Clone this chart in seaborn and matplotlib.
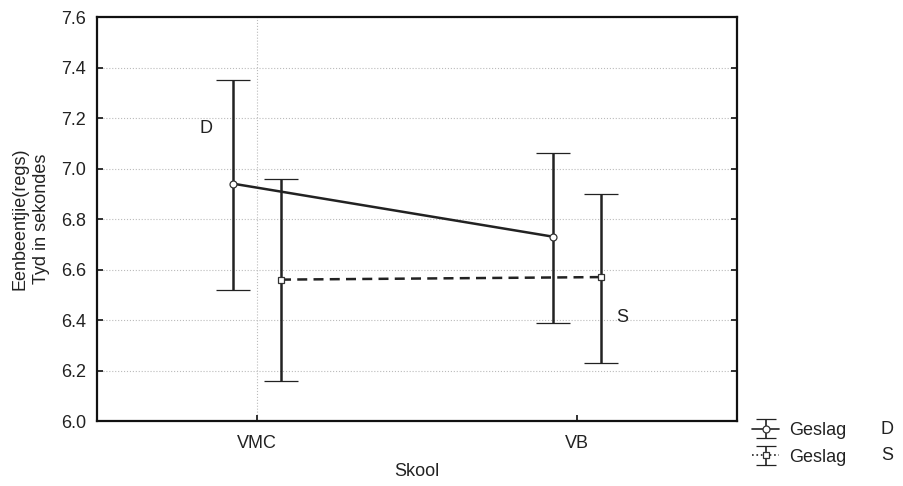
import numpy as np
import pandas as pd
import matplotlib
matplotlib.use("Agg")
import matplotlib.pyplot as plt
import seaborn as sns
from matplotlib.legend_handler import HandlerErrorbar

categories = ["VMC", "VB"]
groups = ["D", "S"]
mean_D = [6.94, 6.73]
upper_D = [7.35, 7.06]
lower_D = [6.52, 6.39]
mean_S = [6.56, 6.57]
upper_S = [6.96, 6.90]
lower_S = [6.16, 6.23]
yticks = [6.0, 6.2, 6.4, 6.6, 6.8, 7.0, 7.2, 7.4, 7.6]

sns.set_theme(style="white")
plt.rcParams["font.family"] = ["Liberation Sans", "DejaVu Sans"]

FS = 13
fig = plt.figure(figsize=(9.04, 4.86), dpi=100)
ax = fig.add_axes([0.1073, 0.1337, 0.708, 0.8313])

xbase = np.arange(len(categories))
offsets = {"D": -0.075, "S": 0.075}
series = {
    "D": (mean_D, upper_D, lower_D, "-", "o"),
    "S": (mean_S, upper_S, lower_S, (0, (4, 2.5)), "s"),
}
rows = []
for g in groups:
    m, u, l, ls, mk = series[g]
    for i, c in enumerate(categories):
        rows.append(dict(x=xbase[i] + offsets[g], mean=m[i], up=u[i], lo=l[i], group=g))
df = pd.DataFrame(rows)

handles = []
for g in groups:
    m, u, l, ls, mk = series[g]
    sub = df[df.group == g]
    sns.lineplot(data=sub, x="x", y="mean", ax=ax, color="#222222", lw=1.8,
                 linestyle=ls, legend=False, zorder=3)
    ax.errorbar(sub["x"], sub["mean"],
                yerr=[sub["mean"] - sub["lo"], sub["up"] - sub["mean"]],
                fmt=mk, color="#222222", ecolor="#222222", elinewidth=1.8,
                capsize=12, capthick=1.8, markersize=5,
                markerfacecolor="white", markeredgecolor="#333333",
                markeredgewidth=0.9, zorder=4, linestyle="none")
    proxy = ax.errorbar([np.nan], [np.nan], yerr=[[np.nan], [np.nan]],
                        fmt=mk, color="#222222", ecolor="#222222", elinewidth=1.2,
                        capsize=7, capthick=1.2, markersize=5,
                        markerfacecolor="white", markeredgecolor="#333333",
                        markeredgewidth=0.9, linestyle=ls if g == "D" else ":", lw=1.2)
    handles.append(proxy)

ax.set_xlim(-0.5, 1.5)
ax.set_ylim(6.0, 7.6)
ax.set_yticks(yticks)
ax.set_yticklabels([f"{v:.1f}" for v in yticks])
ax.set_xticks(xbase)
ax.set_xticklabels(categories)
ax.tick_params(axis="both", direction="in", length=4, width=1.3, labelsize=FS,
               colors="#222222", right=True, left=True, bottom=True)
ax.tick_params(axis="y", pad=8)
ax.tick_params(axis="x", pad=10)
ax.grid(True, axis="y", linestyle=":", color="#bbbbbb", lw=0.8)
ax.axvline(0, linestyle=":", color="#bbbbbb", lw=0.8, zorder=0)
for s in ax.spines.values():
    s.set_color("#111111")
    s.set_linewidth(1.6)

ax.set_xlabel("Skool", fontsize=FS, color="#222222", labelpad=8)
ax.set_ylabel("Eenbeentjie(regs)\nTyd in sekondes", fontsize=FS, color="#222222",
              labelpad=8, linespacing=1.35)

ax.text(-0.16, 7.16, "D", fontsize=FS, color="#222222", ha="center", va="center")
ax.text(1.14, 6.41, "S", fontsize=FS, color="#222222", ha="center", va="center")

leg = fig.legend(handles, ["Geslag", "Geslag"], loc="upper left",
                 bbox_to_anchor=(0.818, 0.158), frameon=False, fontsize=FS,
                 handlelength=1.5, handletextpad=0.55, labelspacing=0.55,
                 borderpad=0.2,
                 handler_map={type(handles[0]): HandlerErrorbar(yerr_size=0.55)})
for t in leg.get_texts():
    t.set_color("#222222")
fig.text(0.981, 0.117, "D", fontsize=FS, color="#222222", ha="center", va="center")
fig.text(0.981, 0.063, "S", fontsize=FS, color="#222222", ha="center", va="center")

fig.savefig("out.png", dpi=100)
